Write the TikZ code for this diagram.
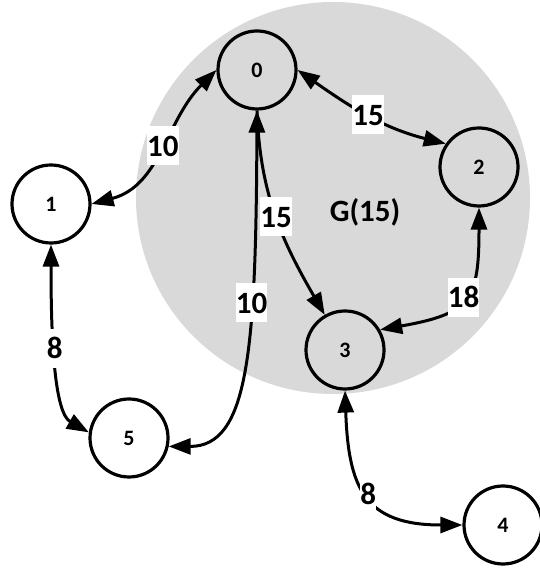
\documentclass[tikz,border=0pt]{standalone}
\usepackage{fontspec}
\setmainfont{Carlito}
\usetikzlibrary{arrows.meta}

\definecolor{groupgray}{HTML}{D9D9D9}

\tikzset{
	vtx/.style={circle,draw,line width=1.6pt,minimum size=39pt,inner sep=0pt,
		font=\fontsize{11}{13}\selectfont\bfseries},
	link/.style={line width=1.5pt,>={Triangle[length=11pt,width=8pt]}},
	wt/.style={fill=white,inner xsep=0pt,inner ysep=0.5pt,text height=14.5pt,text depth=4pt,
		font=\fontsize{15.5}{18}\selectfont\bfseries},
}

\begin{document}
\begin{tikzpicture}[x=0.5pt,y=0.5pt]
		\useasboundingbox (0,0) rectangle (539,571);
		% the group G(15)
		\fill[groupgray] (333,373) ellipse [x radius=197,y radius=196];
		\node[anchor=base,font=\fontsize{15.5}{18}\selectfont\bfseries] (glabel) at (365,349) {G(15)};
		%
		\node[vtx] (n0) at (257,501) {0};
		\node[vtx] (n1) at (51,367) {1};
		\node[vtx] (n2) at (479,404) {2};
		\node[vtx] (n3) at (345,221) {3};
		\node[vtx] (n4) at (503,46) {4};
		\node[vtx] (n5) at (129,133) {5};
		%
		\draw[link,<->] (n1.east) to[out=15,in=225] node[wt,pos=0.52] {10} (n0.west);
		\draw[link,<->] (n0.south) .. controls +(-1,-240) and +(80,0) .. node[wt,pos=0.33] {10} (n5.-12);
		\draw[link,->] (n0.south) to[out=-88,in=120] node[wt] {15} (n3);
		\draw[link,<->] (n0.east) to[out=-35,in=166] node[wt] {15} (n2.145);
		\draw[link,<->] (n2.south) to[out=-90,in=10,looseness=1.5] node[wt] {18} (n3.30);
		\draw[link,<->] (n1.south) .. controls +(0,-90) and +(-35,20) .. node[wt,pos=0.42] {8} (n5.172);
		\draw[link,<->] (n3.south) to[out=-88,in=180,looseness=1.4] node[wt] {8} (n4.west);
	\end{tikzpicture}
\end{document}
